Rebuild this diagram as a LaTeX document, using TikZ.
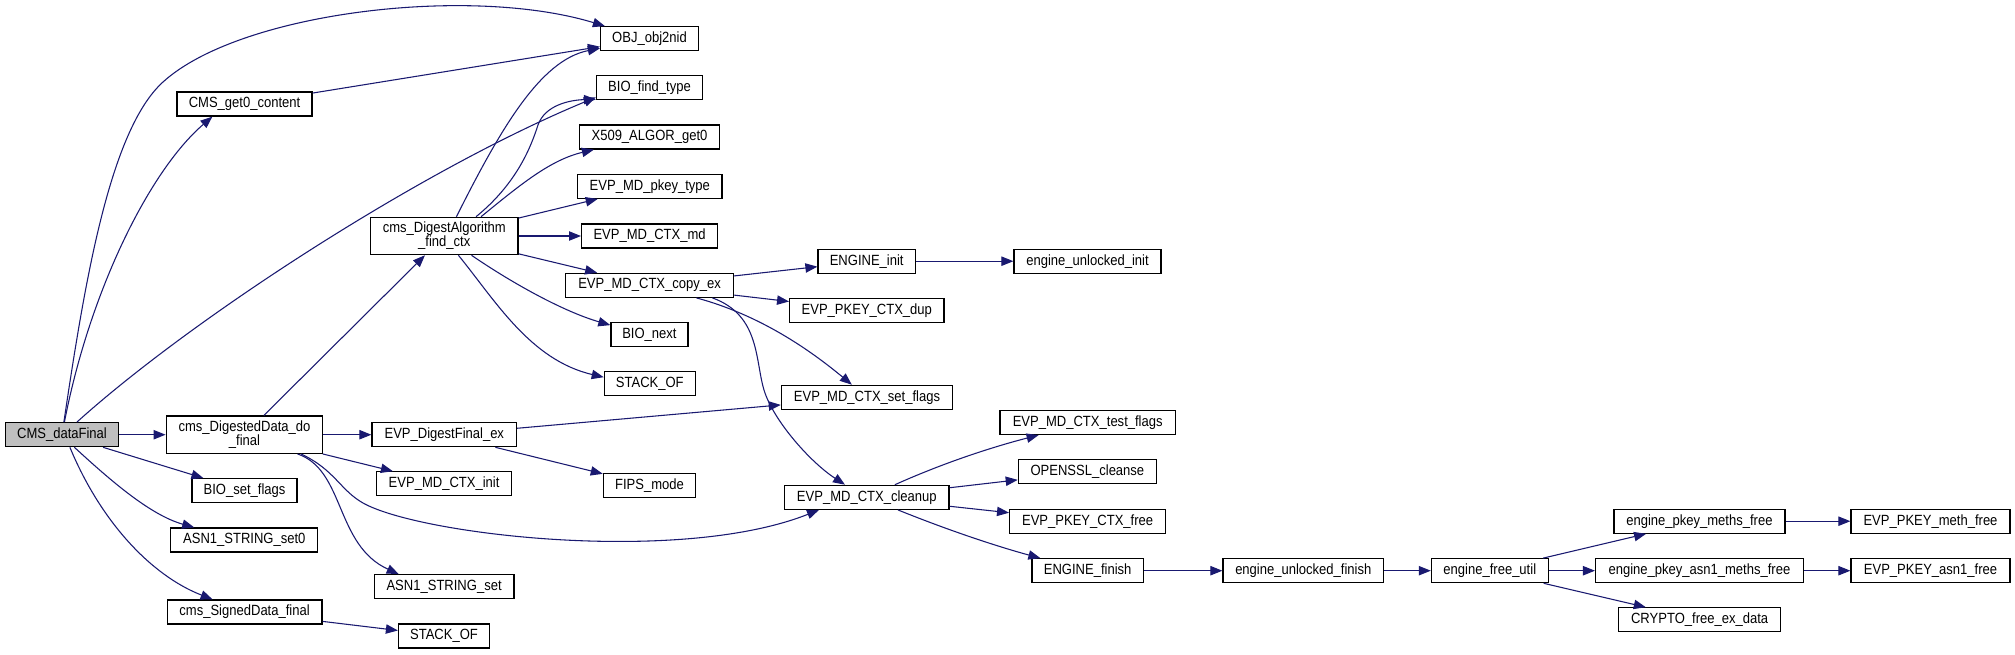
\documentclass[tikz,border=0pt]{standalone}
\usepackage{fontspec}
\setmainfont{Liberation Sans}
\newfontfamily\dgfont[FakeStretch=0.88]{Liberation Sans}
\usetikzlibrary{arrows.meta,calc}
\definecolor{edgec}{HTML}{191970}
\definecolor{rootfill}{HTML}{BFBFBF}
\begin{document}
\begin{tikzpicture}[x=0.75pt,y=-0.75pt,
  fn/.style={draw=black, line width=0.9pt, fill=white, inner sep=0pt, minimum height=18pt,
    font=\dgfont\fontsize{11.1}{10.6}\selectfont, align=center},
  fn2/.style={fn, minimum height=28pt},
  bw/.style={minimum width=#1*0.75pt},
  call/.style={draw=edgec, line width=0.8pt, -{Triangle[length=9pt,width=7pt]}}
]
\useasboundingbox (0,0) rectangle (2015,654);
\fill[white] (0,0) rectangle (2015,654);

% nodes
\node[fn,bw=113,fill=rootfill] (cdf) at (62,434.7) {CMS\_dataFinal};
\node[fn,bw=135] (cg0) at (244.5,104) {CMS\_get0\_content};
\node[fn,bw=98] (obj) at (649.5,38.7) {OBJ\_obj2nid};
\node[fn,bw=106] (bft) at (649.5,87.7) {BIO\_find\_type};
\node[fn,bw=140] (xag) at (649.5,137) {X509\_ALGOR\_get0};
\node[fn,bw=144.5] (mpt) at (649.8,186.3) {EVP\_MD\_pkey\_type};
\node[fn,bw=136] (mdm) at (649.6,236) {EVP\_MD\_CTX\_md};
\node[fn2,bw=147.4] (cda) at (444.3,236) {cms\_DigestAlgorithm\\\_find\_ctx};
\node[fn,bw=168] (cpx) at (649.6,285.3) {EVP\_MD\_CTX\_copy\_ex};
\node[fn,bw=77] (bnx) at (649.4,334.7) {BIO\_next};
\node[fn,bw=91] (soa) at (649.8,383.8) {STACK\_OF};
\node[fn2,bw=156.6] (cdd) at (244.5,434.7) {cms\_DigestedData\_do\\\_final};
\node[fn,bw=144.6] (dfe) at (444.3,434.7) {EVP\_DigestFinal\_ex};
\node[fn,bw=105] (bsf) at (244.5,490.7) {BIO\_set\_flags};
\node[fn,bw=135] (mci) at (444.1,483.8) {EVP\_MD\_CTX\_init};
\node[fn,bw=92.3] (fip) at (649.5,485.3) {FIPS\_mode};
\node[fn,bw=147] (as0) at (244.3,540) {ASN1\_STRING\_set0};
\node[fn,bw=139.6] (ass) at (444.1,586.7) {ASN1\_STRING\_set};
\node[fn,bw=154.8] (csd) at (244.6,612) {cms\_SignedData\_final};
\node[fn,bw=91] (sob) at (444,636) {STACK\_OF};
\node[fn,bw=97.4] (ein) at (866.7,261.2) {ENGINE\_init};
\node[fn,bw=147] (eui) at (1087.5,261.2) {engine\_unlocked\_init};
\node[fn,bw=154.3] (pcd) at (866.8,310.5) {EVP\_PKEY\_CTX\_dup};
\node[fn,bw=171.3] (msf) at (867,397.3) {EVP\_MD\_CTX\_set\_flags};
\node[fn,bw=164.4] (clu) at (866.8,497.3) {EVP\_MD\_CTX\_cleanup};
\node[fn,bw=175.4] (mtf) at (1087.7,422.5) {EVP\_MD\_CTX\_test\_flags};
\node[fn,bw=138.2] (osc) at (1087.4,471.8) {OPENSSL\_cleanse};
\node[fn,bw=156] (pcf) at (1087.6,521.2) {EVP\_PKEY\_CTX\_free};
\node[fn,bw=111.2] (efi) at (1087.6,570.7) {ENGINE\_finish};
\node[fn,bw=160.6] (euf) at (1303.3,570.7) {engine\_unlocked\_finish};
\node[fn,bw=116.8] (efu) at (1489.8,570.7) {engine\_free\_util};
\node[fn,bw=171] (epm) at (1699.4,521.2) {engine\_pkey\_meths\_free};
\node[fn,bw=207.7] (epa) at (1699.4,570.7) {engine\_pkey\_asn1\_meths\_free};
\node[fn,bw=162] (cfd) at (1699.6,619.8) {CRYPTO\_free\_ex\_data};
\node[fn,bw=159] (pmf) at (1930.5,521.2) {EVP\_PKEY\_meth\_free};
\node[fn,bw=159] (paf) at (1930.5,570.7) {EVP\_PKEY\_asn1\_free};

% edges from CMS_dataFinal
\draw[call] (cdf) .. controls (85,280) and (110,130) .. (163,82) .. controls (240,12) and (470,-15) .. ($(obj.north west)+(5,0)$);
\draw[call] (cdf) .. controls (90,290) and (150,170) .. ($(cg0.south west)+(36,0)$);
\draw[call] ($(cdf.north west)+(72,0)$) .. controls (190,320) and (420,170) .. ($(bft.south west)+(0,-3)$);
\draw[call] (cdf) -- (cdd);
\draw[call] (cdf) -- (bsf);
\draw[call] ($(cdf.south west)+(69.5,0)$) .. controls (110,480) and (150,515) .. ($(as0.north west)+(24,0)$);
\draw[call] ($(cdf.south west)+(65,0)$) .. controls (100,520) and (150,575) .. ($(csd.north west)+(46,0)$);
\draw[call] (cg0) -- (obj);

% edges from cms_DigestedData_do_final
\draw[call] (cdd) -- (cda);
\draw[call] (cdd) -- (dfe);
\draw[call] (cdd) -- (mci);
\draw[call] ($(cdd.south west)+(132,0)$) .. controls (345,470) and (335,545) .. ($(ass.north west)+(25,0)$);
\draw[call] ($(cdd.south west)+(135.5,0)$) .. controls (335,470) and (340,490) .. (363,503) .. controls (420,535) and (680,565) .. ($(clu.south west)+(35,0)$);

% edges from cms_DigestAlgorithm_find_ctx
\draw[call] ($(cda.north west)+(86.4,0)$) .. controls (500,130) and (540,60) .. ($(obj.south west)+(0,-3)$);
\draw[call] ($(cda.north west)+(106,0)$) .. controls (515,185) and (530,150) .. (538,125) .. controls (545,105) and (570,100) .. ($(bft.south west)+(0,-1)$);
\draw[call] ($(cda.north west)+(111,0)$) .. controls (520,185) and (550,160) .. ($(xag.south west)+(15,0)$);
\draw[call] (cda) -- (mpt);
\draw[call] (cda) -- (mdm);
\draw[call] (cda) -- (cpx);
\draw[call] ($(cda.south west)+(101.5,0)$) .. controls (515,285) and (565,312) .. ($(bnx.north west)+(0,3)$);
\draw[call] ($(cda.south west)+(88.4,0)$) .. controls (495,300) and (530,360) .. ($(soa.north west)+(0,6)$);

% other edges
\draw[call] (dfe) -- (msf);
\draw[call] (dfe) -- (fip);
\draw[call] (csd) -- (sob);
\draw[call] (cpx) -- (ein);
\draw[call] (cpx) -- (pcd);
\draw[call] (cpx) .. controls (760,315) and (810,350) .. (msf);
\draw[call] ($(cpx.south west)+(147.4,0)$) .. controls (760,315) and (755,360) .. (764,390) .. controls (773,420) and (810,462) .. ($(clu.north west)+(61,0)$);
\draw[call] (ein) -- (eui);
\draw[call] (clu) .. controls (950,460) and (1000,445) .. (mtf);
\draw[call] (clu) -- (osc);
\draw[call] (clu) -- (pcf);
\draw[call] (clu) .. controls (960,535) and (1010,550) .. (efi);
\draw[call] (efi) -- (euf);
\draw[call] (euf) -- (efu);
\draw[call] (efu) -- (epm);
\draw[call] (efu) -- (epa);
\draw[call] (efu) -- (cfd);
\draw[call] (epm) -- (pmf);
\draw[call] (epa) -- (paf);
\end{tikzpicture}
\end{document}
